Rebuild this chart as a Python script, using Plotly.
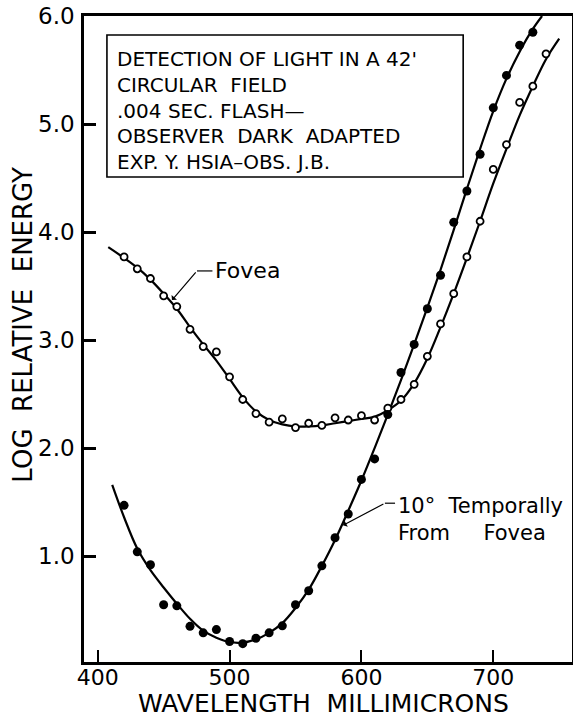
import plotly.graph_objects as go

# ---- data ----
fovea_wl = [420, 430, 440, 450, 460, 470, 480, 490, 500, 510,
            520, 530, 540, 550, 560, 570, 580, 590, 600, 610,
            620, 630, 640, 650, 660, 670, 680, 690, 700, 710,
            720, 730, 740]
fovea_energy = [3.77, 3.66, 3.57, 3.41, 3.31, 3.10, 2.94, 2.89, 2.66, 2.45,
                2.32, 2.24, 2.27, 2.19, 2.23, 2.21, 2.28, 2.26, 2.30, 2.26,
                2.37, 2.45, 2.59, 2.85, 3.15, 3.43, 3.77, 4.10, 4.58, 4.81,
                5.20, 5.35, 5.65]

temporal_wl = [420, 430, 440, 450, 460, 470, 480, 490, 500, 510,
               520, 530, 540, 550, 560, 570, 580, 590, 600, 610,
               620, 630, 640, 650, 660, 670, 680, 690, 700, 710,
               720, 730]
temporal_energy = [1.47, 1.04, 0.92, 0.55, 0.54, 0.35, 0.29, 0.32, 0.21, 0.19,
                   0.24, 0.29, 0.355, 0.55, 0.68, 0.91, 1.17, 1.39, 1.71, 1.90,
                   2.31, 2.70, 2.96, 3.29, 3.60, 4.09, 4.38, 4.72, 5.15, 5.45,
                   5.73, 5.85]

# hand-fitted smooth curves
fovea_fit_wl = [408, 420, 430, 440, 450, 460, 470, 480, 490, 500, 510, 520,
                530, 540, 550, 560, 570, 580, 590, 600, 610, 620, 630, 640,
                650, 660, 670, 680, 690, 700, 710, 720, 730, 740, 750]
fovea_fit = [3.86, 3.76, 3.67, 3.56, 3.43, 3.29, 3.12, 2.96, 2.81, 2.64, 2.47, 2.34,
             2.26, 2.22, 2.20, 2.20, 2.21, 2.23, 2.25, 2.27, 2.29, 2.35, 2.44, 2.60,
             2.83, 3.12, 3.43, 3.76, 4.10, 4.45, 4.77, 5.08, 5.35, 5.60, 5.79]

temporal_fit_wl = [411, 420, 430, 440, 450, 460, 470, 480, 490, 500, 510, 520,
                   530, 540, 550, 560, 570, 580, 590, 600, 610, 620, 630, 640,
                   650, 660, 670, 680, 690, 700, 710, 720, 730, 737]
temporal_fit = [1.66, 1.36, 1.07, 0.87, 0.71, 0.56, 0.42, 0.31, 0.245, 0.205, 0.20, 0.23,
                0.29, 0.38, 0.52, 0.69, 0.91, 1.15, 1.42, 1.70, 2.00, 2.31, 2.63, 2.96,
                3.30, 3.65, 4.02, 4.40, 4.77, 5.12, 5.42, 5.67, 5.88, 6.0]

x_ticks = [400, 500, 600, 700]
y_ticks = [1.0, 2.0, 3.0, 4.0, 5.0, 6.0]
y_tick_labels = ["1.0", "2.0", "3.0", "4.0", "5.0", "6.0"]

box_lines = ["DETECTION OF LIGHT IN A 42'<br>CIRCULAR  FIELD",
             ".004 SEC. FLASH\u2014",
             "OBSERVER  DARK  ADAPTED",
             "EXP. Y. HSIA\u2013OBS. J.B."]

FONT = "DejaVu Sans"

fig = go.Figure()

fig.add_trace(go.Scatter(x=fovea_fit_wl, y=fovea_fit, mode="lines",
                         line=dict(color="black", width=2.2, shape="spline"),
                         hoverinfo="skip", showlegend=False))
fig.add_trace(go.Scatter(x=temporal_fit_wl, y=temporal_fit, mode="lines",
                         line=dict(color="black", width=2.2, shape="spline"),
                         hoverinfo="skip", showlegend=False))
fig.add_trace(go.Scatter(x=fovea_wl, y=fovea_energy, mode="markers", name="Fovea",
                         marker=dict(symbol="circle", size=7, color="white",
                                     line=dict(color="black", width=1.8)),
                         showlegend=False))
fig.add_trace(go.Scatter(x=temporal_wl, y=temporal_energy, mode="markers",
                         name="10\u00b0 Temporally From Fovea",
                         marker=dict(symbol="circle", size=9, color="black",
                                     line=dict(color="black", width=0)),
                         showlegend=False))

annotations = []
box_y = [0.9140, 0.8529, 0.8142, 0.7740]
for txt, yy in zip(box_lines, box_y):
    annotations.append(dict(text=txt, xref="paper", yref="paper", x=0.0635, y=yy,
                            xanchor="left", yanchor="middle", align="left",
                            showarrow=False,
                            font=dict(family=FONT, size=20, color="black")))

# Fovea label + leader
annotations.append(dict(text="Fovea", xref="x", yref="y", x=487.4, y=3.64,
                        xanchor="left", yanchor="middle", showarrow=False,
                        font=dict(family=FONT, size=22, color="black")))
annotations.append(dict(text="", xref="x", yref="y", x=456.3, y=3.37,
                        axref="x", ayref="y", ax=475.3, ay=3.64,
                        showarrow=True, arrowhead=1, arrowsize=1, arrowwidth=1.2,
                        arrowcolor="black"))
# 10 deg label + leader
annotations.append(dict(text="10\u00b0  Temporally", xref="x", yref="y", x=626.0, y=1.46,
                        xanchor="left", yanchor="middle", showarrow=False,
                        font=dict(family=FONT, size=21, color="black")))
annotations.append(dict(text="From     Fovea", xref="x", yref="y", x=626.0, y=1.21,
                        xanchor="left", yanchor="middle", showarrow=False,
                        font=dict(family=FONT, size=21, color="black")))
annotations.append(dict(text="", xref="x", yref="y", x=586.0, y=1.285,
                        axref="x", ayref="y", ax=617.8, ay=1.49,
                        showarrow=True, arrowhead=1, arrowsize=1, arrowwidth=1.2,
                        arrowcolor="black"))

# axis titles
annotations.append(dict(text="WAVELENGTH  MILLIMICRONS", xref="paper", yref="paper",
                        x=0.49, y=-0.064, xanchor="center", yanchor="middle",
                        showarrow=False, font=dict(family=FONT, size=25, color="black")))
annotations.append(dict(text="LOG  RELATIVE  ENERGY", xref="paper", yref="paper",
                        x=-0.124, y=0.523, xanchor="center", yanchor="middle",
                        textangle=-90, showarrow=False,
                        font=dict(family=FONT, size=26, color="black")))

shapes = [
    dict(type="rect", xref="paper", yref="paper", x0=0.047, x1=0.777, y0=0.7508, y1=0.9706,
         line=dict(color="black", width=1.6), fillcolor="rgba(0,0,0,0)"),
    dict(type="line", xref="x", yref="y", x0=475.3, x1=487.0, y0=3.64, y1=3.64,
         line=dict(color="black", width=1.2)),
    dict(type="line", xref="x", yref="y", x0=617.8, x1=625.5, y0=1.49, y1=1.49,
         line=dict(color="black", width=1.2)),
]

fig.update_layout(
    width=573, height=719,
    margin=dict(l=84, r=1, t=16, b=57, autoexpand=False),
    paper_bgcolor="white", plot_bgcolor="white",
    showlegend=False,
    annotations=annotations,
    shapes=shapes,
    xaxis=dict(range=[389.6, 759.7], tickvals=x_ticks, ticks="inside", ticklen=12,
               tickwidth=2, tickcolor="black", showline=True, linecolor="black",
               linewidth=2.5, mirror=True, showgrid=False, zeroline=False,
               automargin=False, ticklabelstandoff=-6,
               tickfont=dict(family=FONT, size=22, color="black")),
    yaxis=dict(range=[0.02, 6.0], tickvals=y_ticks, ticktext=y_tick_labels,
               ticks="inside", ticklen=12, tickwidth=2.5, tickcolor="black",
               showline=True, linecolor="black", linewidth=2.5, mirror=True,
               showgrid=False, zeroline=False, ticklabelstandoff=2,
               automargin=False,
               tickfont=dict(family=FONT, size=23, color="black")),
)

fig.write_html("out.html", config={"displayModeBar": False},
               post_script="document.body.style.margin='0';document.body.style.overflow='hidden';")
